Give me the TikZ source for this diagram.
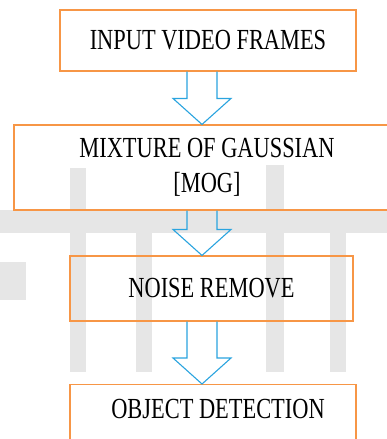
\documentclass[tikz,border=0pt]{standalone}
\usepackage{fontspec}
\setmainfont{Liberation Serif}
\usetikzlibrary{calc}
\definecolor{fcOrange}{HTML}{F79646}
\definecolor{fcBlue}{HTML}{2AA4DF}
\definecolor{fcMark}{HTML}{E6E6E6}
\newcommand{\tall}[1]{\scalebox{1}[1.3]{#1}}
\tikzset{
  stepbox/.style={
    draw=fcOrange, line width=1.1pt,
    align=center, font=\fontsize{22.4}{35}\selectfont, text=black
  },
  hollow/.style={draw=fcBlue, line width=1.1pt, line join=miter},
  wmark/.style={fill=fcMark, draw=none},
}
% hollow block arrow from the bottom of #1 to the top of #2
\newcommand{\blockdown}[2]{%
  \draw[hollow] ($(#1.south -| ax)+(-15,0)$) -- ($(#2.north -| ax)+(-15,-26)$)
    -- ++(-14,0) -- (#2.north -| ax) -- ++(29,-26) -- ++(-14,0)
    -- ($(#1.south -| ax)+(15,0)$);}

\begin{document}
\begin{tikzpicture}[x=1pt, y=-1pt]
  \clip (0,0) rectangle (387,439);
  \fill[white] (0,0) rectangle (387,439);
  \coordinate (ax) at (202,0);

  % faint watermark behind the chart
  \fill[wmark] (0,210) rectangle (387,233);
  \fill[wmark] (70,168) rectangle (86,372);
  \fill[wmark] (136,210) rectangle (152,372);
  \fill[wmark] (266,165) rectangle (284,372);
  \fill[wmark] (330,215) rectangle (346,372);
  \fill[wmark] (0,262) rectangle (26,300);

  \node[stepbox, minimum width=296, minimum height=61] (b1) at (208,40.5) {\tall{INPUT VIDEO FRAMES}};
  \node[stepbox, minimum width=386, minimum height=85] (b2) at (207,167.5) {\tall{MIXTURE OF GAUSSIAN}\\\tall{[MOG]}};
  \node[stepbox, minimum width=283, minimum height=65] (b3) at (211.5,288.5) {\tall{NOISE REMOVE}};
  \node[stepbox, minimum width=286, anchor=north, inner ysep=0pt,
        text height=34pt, text depth=46pt] (b4) at (213,384) {\hspace*{10pt}\tall{OBJECT DETECTION}};

  \blockdown{b1}{b2}
  \blockdown{b2}{b3}
  \blockdown{b3}{b4}
\end{tikzpicture}
\end{document}
